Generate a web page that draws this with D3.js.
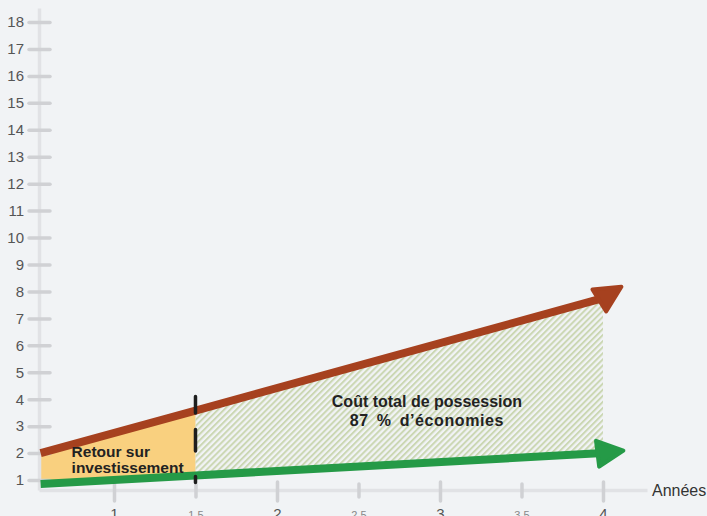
<!DOCTYPE html>
<html>
<head>
<meta charset="utf-8">
<script src="https://cdn.jsdelivr.net/npm/d3@7"></script>
<style>
  html, body { margin: 0; padding: 0; background: #f1f3f5; }
  svg { display: block; font-family: "Liberation Sans", Arial, Helvetica, sans-serif; }
</style>
</head>
<body>
<svg id="chart" width="707" height="516"></svg>
<script>
// Years on the x axis where the two cost lines are sampled
const years = [0.55, 1.5, 4.0];
// Cumulative cost of the existing solution (red line)
const costLegacy = [2.0, 3.58, 7.75];
// Cumulative cost of the new solution (green line)
const costNew = [0.85, 1.17, 2.0];
// Break-even year, marked by the dashed vertical line
const breakEven = 1.5;
// Where the arrow shafts end (arrowheads continue past this point)
const arrowYear = 4.04;
const arrowLegacy = 7.9;
const arrowNew = 2.03;

const yTickValues = [1, 2, 3, 4, 5, 6, 7, 8, 9, 10, 11, 12, 13, 14, 15, 16, 17, 18];
const xTickValues = [1, 1.5, 2, 2.5, 3, 3.5, 4];
const xTickLabels = ["1", "1.5", "2", "2.5", "3", "3.5", "4"];
const xAxisTitle = "Années";
const roiLabel = ["Retour sur", "investissement"];
const tcoLabel = ["Coût total de possession", "87 % d’économies"];

const colors = { legacy: "#a6411f", newer: "#259a47", roi: "#f9d07f", hatch: "#cbd7b3",
                 axis: "#e1e2e5", tick: "#d0d1d4", label: "#555" };

const svg = d3.select("#chart");

const x = d3.scaleLinear().domain([0.54, 4.27]).range([39, 647]);
const y = d3.scaleLinear().domain([0.63, 18.52]).range([490, 8]);

// Hatch pattern for the savings area
const defs = svg.append("defs");
defs.append("pattern")
  .attr("id", "hatch")
  .attr("patternUnits", "userSpaceOnUse")
  .attr("width", 4.3).attr("height", 4.3)
  .attr("patternTransform", "rotate(45)")
  .append("rect")
  .attr("width", 2).attr("height", 4.3)
  .attr("fill", colors.hatch);

["legacy", "newer"].forEach(k => {
  defs.append("marker")
    .attr("id", "arrow-" + k)
    .attr("markerUnits", "userSpaceOnUse")
    .attr("viewBox", "-4 -18 36 36")
    .attr("markerWidth", 36).attr("markerHeight", 36)
    .attr("refX", 12).attr("refY", 0)
    .attr("orient", "auto")
    .append("path")
    .attr("d", "M0,-13 L26,0 L0,13 Z")
    .attr("fill", colors[k])
    .attr("stroke", colors[k])
    .attr("stroke-width", 4)
    .attr("stroke-linejoin", "round");
});

const rows = years.map((yr, i) => ({ yr, hi: costLegacy[i], lo: costNew[i] }));

const area = d3.area().x(d => x(d.yr)).y0(d => y(d.lo)).y1(d => y(d.hi));

// Return on investment area (before break-even)
svg.append("path")
  .datum(rows.filter(d => d.yr <= breakEven))
  .attr("d", area)
  .attr("fill", colors.roi);

// Savings area (after break-even)
svg.append("path")
  .datum(rows.filter(d => d.yr >= breakEven))
  .attr("d", area)
  .attr("fill", "url(#hatch)");

// Axes
const yAxis = d3.axisLeft(y).tickValues(yTickValues).tickSize(0).tickPadding(15);
const gy = svg.append("g").attr("transform", `translate(${x(0.54)},0)`).call(yAxis);
gy.select(".domain").attr("stroke", colors.axis).attr("stroke-width", 3.5);
gy.selectAll(".tick line")
  .attr("x1", -10).attr("x2", 11)
  .attr("stroke", colors.tick).attr("stroke-width", 3.5).attr("stroke-linecap", "round");
gy.selectAll(".tick text")
  .attr("fill", colors.label).attr("font-size", 15).attr("font-family", null);

const xAxis = d3.axisBottom(x).tickValues(xTickValues).tickSize(0)
  .tickFormat((d, i) => xTickLabels[i]);
const gx = svg.append("g").attr("transform", `translate(0,${y(0.63)})`).call(xAxis);
gx.select(".domain").attr("stroke", colors.axis).attr("stroke-width", 3.5);
gx.selectAll(".tick line")
  .attr("y1", d => Number.isInteger(d) ? -8 : -6)
  .attr("y2", d => Number.isInteger(d) ? 11 : 7)
  .attr("stroke", colors.tick).attr("stroke-width", 3.5).attr("stroke-linecap", "round");
gx.selectAll(".tick text")
  .attr("y", 29)
  .attr("dy", null)
  .attr("fill", d => Number.isInteger(d) ? colors.label : "#888")
  .attr("font-size", d => Number.isInteger(d) ? 15 : 11)
  .attr("font-family", null);

svg.append("text")
  .attr("x", x(4.27) + 5).attr("y", y(0.63))
  .attr("dy", "0.35em")
  .attr("font-size", 16).attr("fill", "#333")
  .text(xAxisTitle);

// Cost lines with arrowheads
const line = d3.line().x(d => x(d[0])).y(d => y(d[1]));
svg.append("path")
  .datum(years.map((yr, i) => [yr, costLegacy[i]]).concat([[arrowYear, arrowLegacy]]))
  .attr("d", line)
  .attr("fill", "none").attr("stroke", colors.legacy).attr("stroke-width", 8)
  .attr("stroke-linejoin", "round")
  .attr("marker-end", "url(#arrow-legacy)");
svg.append("path")
  .datum(years.map((yr, i) => [yr, costNew[i]]).concat([[arrowYear, arrowNew]]))
  .attr("d", line)
  .attr("fill", "none").attr("stroke", colors.newer).attr("stroke-width", 8)
  .attr("stroke-linejoin", "round")
  .attr("marker-end", "url(#arrow-newer)");

// Break-even marker
svg.append("line")
  .attr("x1", x(breakEven)).attr("x2", x(breakEven))
  .attr("y1", y(4.1)).attr("y2", y(0.91))
  .attr("stroke", "#1e1e1e").attr("stroke-width", 3.5)
  .attr("stroke-dasharray", "16.5,16.5,21.5,25.5,20").attr("stroke-linecap", "round");

// Annotations
const roi = svg.append("text")
  .attr("font-size", 15.5).attr("font-weight", "bold").attr("fill", "#222");
roiLabel.forEach((t, i) => roi.append("tspan").attr("x", x(0.74)).attr("y", 457 + i * 16).text(t));

const tco = svg.append("text")
  .attr("text-anchor", "middle").attr("font-size", 16).attr("font-weight", "bold").attr("fill", "#222");
tcoLabel.forEach((t, i) => tco.append("tspan")
  .attr("x", x(2.92)).attr("y", 407 + i * 19)
  .attr("letter-spacing", i === 1 ? 0.6 : null)
  .attr("word-spacing", i === 1 ? 3 : null)
  .text(t));
</script>
</body>
</html>
